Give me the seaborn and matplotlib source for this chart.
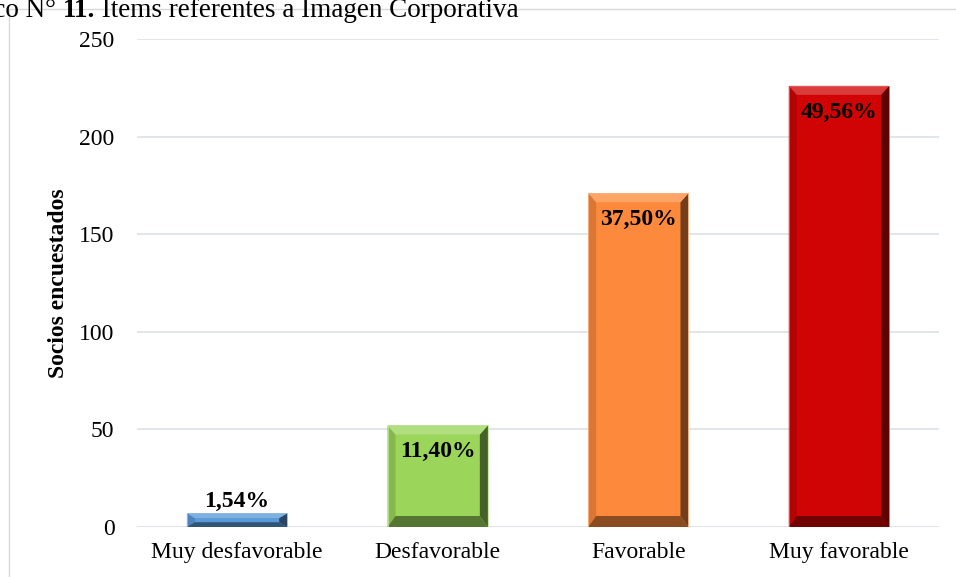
import matplotlib
matplotlib.use("Agg")
import matplotlib.pyplot as plt
from matplotlib.patches import Polygon, Rectangle
from matplotlib.colors import to_rgb
import numpy as np
import pandas as pd
import seaborn as sns

# Survey results: Imagen Corporativa items
categorias = ["Muy desfavorable", "Desfavorable", "Favorable", "Muy favorable"]
socios = [7, 52, 171, 226]
porcentajes = ["1,54%", "11,40%", "37,50%", "49,56%"]
colores = ["#5a9ad9", "#9bd55a", "#fd8a3c", "#d00404"]
y_ticks = [0, 50, 100, 150, 200, 250]

sns.set_theme(style="white")
plt.rcParams["font.family"] = ["Liberation Serif", "DejaVu Serif"]
plt.rcParams["text.color"] = "black"
plt.rcParams["axes.labelcolor"] = "black"

W, H, DPI = 956, 577, 100
fig = plt.figure(figsize=(W / DPI, H / DPI), dpi=DPI)
fig.patch.set_facecolor("white")

# plot area in pixels
left_px, right_px, top_px, bottom_px = 136.75, 939.25, 39, 527
ax = fig.add_axes([left_px / W, (H - bottom_px) / H,
                   (right_px - left_px) / W, (bottom_px - top_px) / H])

df = pd.DataFrame({"categoria": categorias, "socios": socios})
sns.barplot(data=df, x="categoria", y="socios", hue="categoria",
            palette=colores, width=0.5, legend=False, ax=ax,
            edgecolor="none", linewidth=0, saturation=1)

ax.set_ylim(0, 250)
ax.set_xlim(-0.5, len(categorias) - 0.5)
ax.set_yticks(y_ticks)
ax.yaxis.grid(True, color="#dde1e8", linewidth=1.2)
ax.set_axisbelow(True)
for s in ax.spines.values():
    s.set_visible(False)
ax.tick_params(axis="both", length=0, labelsize=17, colors="black")
ax.tick_params(axis="y", pad=16)
ax.tick_params(axis="x", pad=11)
ax.set_xlabel("")
ax.set_ylabel("Socios encuestados", fontsize=17, fontweight="bold",
              labelpad=7, color="black")


def shade(c, f):
    r = np.array(to_rgb(c))
    return tuple(np.clip(r * f, 0, 1))


def tint(c, f):
    r = np.array(to_rgb(c))
    return tuple(r + (1 - r) * f)


# bevelled look on each bar
px_x = (right_px - left_px) / len(categorias)
px_y = (bottom_px - top_px) / 250.0
for patch, color in zip(ax.patches, colores):
    x0, y0 = patch.get_x(), patch.get_y()
    x1, y1 = x0 + patch.get_width(), y0 + patch.get_height()
    bx = 8 / px_x
    by = min(9 / px_y, (y1 - y0) * 0.35)
    byb = min(11 / px_y, (y1 - y0) * 0.35)
    faces = [
        ([(x0, y0), (x0 + bx, y0 + byb), (x0 + bx, y1 - by), (x0, y1)], shade(color, 0.86)),
        ([(x1, y0), (x1 - bx, y0 + byb), (x1 - bx, y1 - by), (x1, y1)], shade(color, 0.45)),
        ([(x0, y1), (x0 + bx, y1 - by), (x1 - bx, y1 - by), (x1, y1)], tint(color, 0.22)),
        ([(x0, y0), (x0 + bx, y0 + byb), (x1 - bx, y0 + byb), (x1, y0)], shade(color, 0.55)),
    ]
    for pts, fc in faces:
        ax.add_patch(Polygon(pts, closed=True, facecolor=fc, edgecolor="none", zorder=3))
    ax.add_patch(Rectangle((x0, y0), x1 - x0, y1 - y0, facecolor="none",
                           edgecolor=tint(color, 0.35), linewidth=0.6, zorder=4))

# value labels
for i, (v, lab) in enumerate(zip(socios, porcentajes)):
    if v < 20:
        ax.annotate(lab, (i, v), xytext=(0, 1), textcoords="offset points",
                    ha="center", va="bottom", fontsize=17, fontweight="bold",
                    color="black", zorder=5)
    else:
        ax.annotate(lab, (i, v), xytext=(0, -19), textcoords="offset points",
                    ha="center", va="center", fontsize=17, fontweight="bold",
                    color="black", zorder=5)

# outer chart frame
fig.add_artist(Rectangle((9 / W, -0.1), 1.2, (H - 9) / H + 0.1, transform=fig.transFigure,
                         facecolor="none", edgecolor="#d9d9d9", linewidth=1))

# caption above the chart
base_y = (H - 17) / H
cap_size = 19.5
t3 = fig.text(519 / W, base_y, " Ítems referentes a Imagen Corporativa",
              ha="right", va="baseline", fontsize=cap_size, color="black")
t2 = fig.text(0, 0, "11.", fontsize=cap_size, fontweight="bold", ha="right",
              va="baseline", color="black")
t1 = fig.text(0, 0, "Gráfico N° ", fontsize=cap_size, ha="right", va="baseline",
              color="black")
fig.canvas.draw()
r = fig.canvas.get_renderer()
bb3 = t3.get_window_extent(r)
t2.set_position((bb3.x0 / W, base_y))
fig.canvas.draw()
bb2 = t2.get_window_extent(r)
t1.set_position((bb2.x0 / W, base_y))

fig.savefig("out.png", dpi=DPI)
